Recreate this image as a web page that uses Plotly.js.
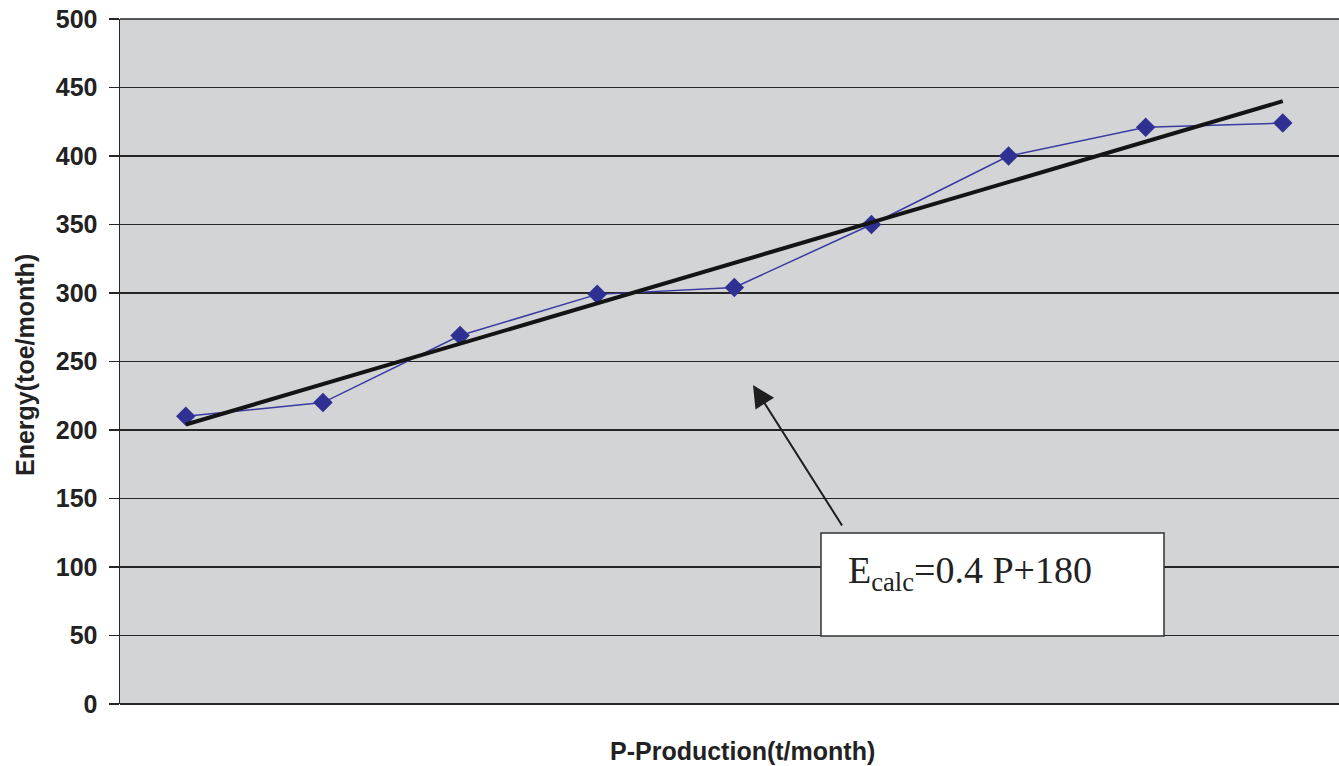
<!DOCTYPE html>
<html>
<head>
<meta charset="utf-8">
<script src="https://cdn.plot.ly/plotly-3.0.1.min.js"></script>
<style>html,body{margin:0;padding:0;background:#fff;}#chart{width:1339px;height:766px;}</style>
</head>
<body>
<div id="chart"></div>
<script>
// Data
const points = [1, 2, 3, 4, 5, 6, 7, 8, 9];
const energy = [210, 220, 269, 299, 304, 350, 400, 421, 424];
const trendX = [1, 9];
const trendY = [204, 440];
const yTicks = [0, 50, 100, 150, 200, 250, 300, 350, 400, 450, 500];
const xTitle = "P-Production(t/month)";
const yTitle = "Energy(toe/month)";
const eqText = "E<sub>calc</sub>=0.4 P+180";

const boldFont = {family: "Liberation Sans, Arial, sans-serif", size: 25, color: "#222", weight: "bold"};

const traces = [
  {
    x: points, y: energy, type: "scatter", mode: "lines+markers",
    line: {color: "#3a3aa0", width: 1.5},
    marker: {symbol: "diamond", size: 15, color: "#2e3192"},
    hoverinfo: "skip", showlegend: false
  },
  {
    x: trendX, y: trendY, type: "scatter", mode: "lines",
    line: {color: "#141414", width: 4},
    hoverinfo: "skip", showlegend: false
  }
];

const layout = {
  width: 1339, height: 766,
  margin: {l: 120, r: 0, t: 19, b: 62},
  paper_bgcolor: "#ffffff",
  plot_bgcolor: "#d3d4d6",
  showlegend: false,
  xaxis: {
    range: [0.52, 9.41], showgrid: false, zeroline: false,
    showticklabels: false, ticks: "", showline: false, fixedrange: true
  },
  yaxis: {
    range: [0, 500], tickvals: yTicks, ticktext: yTicks.map(String),
    showgrid: true, gridcolor: "#262626", gridwidth: 1.5,
    zeroline: true, zerolinecolor: "#262626", zerolinewidth: 1.5,
    showline: true, linecolor: "#262626", linewidth: 1.5,
    ticks: "outside", ticklen: 10, tickcolor: "#262626", tickwidth: 1.5,
    tickfont: boldFont, ticklabelstandoff: 6, fixedrange: true
  },
  shapes: [
    {type: "line", xref: "paper", yref: "paper", x0: 0, x1: 1, y0: 1, y1: 1,
     line: {color: "#262626", width: 1.5}},
    {type: "rect", xref: "paper", yref: "paper", layer: "above",
     x0: (821 - 120) / 1219, x1: (1164 - 120) / 1219,
     y0: (704 - 636) / 685, y1: (704 - 533) / 685,
     fillcolor: "#ffffff", line: {color: "#333333", width: 1.5}}
  ],
  annotations: [
    {text: xTitle, xref: "paper", yref: "paper", x: (742 - 120) / 1219, y: (704 - 751) / 685,
     xanchor: "center", yanchor: "middle", showarrow: false, font: boldFont},
    {text: yTitle, xref: "paper", yref: "paper", x: (25 - 120) / 1219, y: (704 - 365) / 685,
     xanchor: "center", yanchor: "middle", textangle: -90, showarrow: false, font: boldFont},
    {text: "", xref: "paper", yref: "paper", x: (753 - 120) / 1219, y: (704 - 385) / 685,
     showarrow: true, arrowhead: 2, arrowsize: 2.2, arrowwidth: 2, arrowcolor: "#1e1e1e",
     ax: 90, ay: 142, standoff: 0},
    {text: eqText, xref: "paper", yref: "paper", x: (846 - 120) / 1219, y: (704 - 573) / 685,
     xanchor: "left", yanchor: "middle", showarrow: false,
     font: {family: "Liberation Serif, Times New Roman, serif", size: 38, color: "#222"}}
  ]
};

Plotly.newPlot("chart", traces, layout, {displayModeBar: false, staticPlot: true});
</script>
</body>
</html>
